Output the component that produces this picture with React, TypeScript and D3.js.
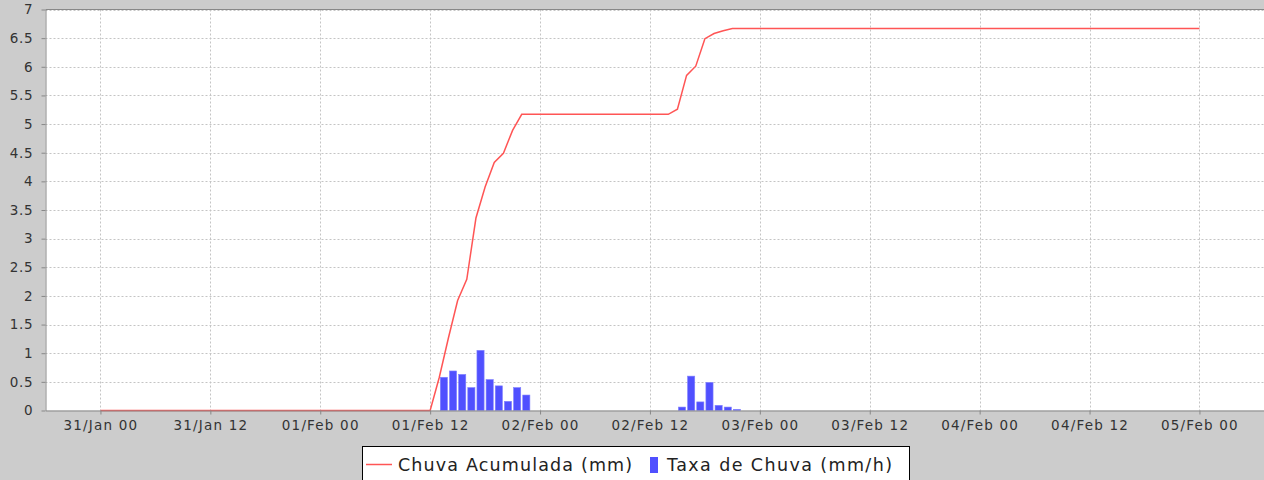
import { useRef, useEffect } from 'react';
import * as d3 from 'd3';

// hourly rain rate (mm/h), bar drawn over [t, t+1h]
const rateTimes = [
    '2011-02-01T13:00', '2011-02-01T14:00', '2011-02-01T15:00', '2011-02-01T16:00', '2011-02-01T17:00',
    '2011-02-01T18:00', '2011-02-01T19:00', '2011-02-01T20:00', '2011-02-01T21:00', '2011-02-01T22:00',
    '2011-02-02T15:00', '2011-02-02T16:00', '2011-02-02T17:00', '2011-02-02T18:00', '2011-02-02T19:00',
    '2011-02-02T20:00', '2011-02-02T21:00',
];
const rateValues = [
    0.58, 0.69, 0.63, 0.40, 1.05, 0.54, 0.43, 0.16, 0.40, 0.27,
    0.06, 0.60, 0.15, 0.49, 0.09, 0.06, 0.02,
];

// accumulated rain (mm)
const accTimes = [
    '2011-01-31T00:00', '2011-02-01T12:00',
    '2011-02-01T13:00', '2011-02-01T14:00', '2011-02-01T15:00', '2011-02-01T16:00', '2011-02-01T17:00',
    '2011-02-01T18:00', '2011-02-01T19:00', '2011-02-01T20:00', '2011-02-01T21:00', '2011-02-01T22:00',
    '2011-02-02T14:00', '2011-02-02T15:00', '2011-02-02T16:00', '2011-02-02T17:00', '2011-02-02T18:00',
    '2011-02-02T19:00', '2011-02-02T20:00', '2011-02-02T21:00', '2011-02-05T00:00',
];
const accValues = [
    0, 0,
    0.58, 1.27, 1.92, 2.29, 3.36, 3.90, 4.33, 4.49, 4.89, 5.17,
    5.17, 5.26, 5.85, 6.01, 6.49, 6.58, 6.63, 6.67, 6.67,
];

const yTicks = [0, 0.5, 1, 1.5, 2, 2.5, 3, 3.5, 4, 4.5, 5, 5.5, 6, 6.5, 7];
const xTickTimes = [
    '2011-01-31T00:00', '2011-01-31T12:00', '2011-02-01T00:00', '2011-02-01T12:00', '2011-02-02T00:00',
    '2011-02-02T12:00', '2011-02-03T00:00', '2011-02-03T12:00', '2011-02-04T00:00', '2011-02-04T12:00',
    '2011-02-05T00:00',
];

const lineName = 'Chuva Acumulada (mm)';
const barName = 'Taxa de Chuva (mm/h)';

const RainChart = () => {
    const svgRef = useRef<SVGSVGElement | null>(null);

    useEffect(() => {
        const svgElement = svgRef.current;
        if (!svgElement) return;

        const width = 1264;
        const height = 480;
        const parse = d3.utcParse('%Y-%m-%dT%H:%M');
        const font = '"DejaVu Sans", sans-serif';

        const svg = d3.select(svgElement);
        svg.selectAll('*').remove();

        svg.append('rect')
            .attr('width', width)
            .attr('height', height)
            .attr('fill', '#cccccc');

        const left = 45.5;
        const top = 9.5;
        const bottom = 410.5;
        const hourPx = 1099 / 120;

        const x = d3.scaleUtc()
            .domain([parse('2011-01-30T18:00') as Date, parse('2011-02-05T12:00') as Date])
            .range([left, left + 138 * hourPx]);

        const y = d3.scaleLinear()
            .domain([0, 7])
            .range([bottom, top]);

        // plot background
        svg.append('rect')
            .attr('x', left)
            .attr('y', top)
            .attr('width', width - left)
            .attr('height', bottom - top)
            .attr('fill', '#ffffff');

        const tickDates = xTickTimes.map(t => parse(t) as Date);

        // grid
        const grid = svg.append('g')
            .attr('stroke', '#c4c4c4')
            .attr('stroke-width', 1)
            .attr('stroke-dasharray', '2,2');

        grid.selectAll('line.h')
            .data(yTicks.slice(1))
            .join('line')
            .attr('x1', left)
            .attr('x2', width)
            .attr('y1', d => Math.round(y(d)) + 0.5)
            .attr('y2', d => Math.round(y(d)) + 0.5);

        grid.selectAll('line.v')
            .data(tickDates)
            .join('line')
            .attr('x1', d => Math.round(x(d)) + 0.5)
            .attr('x2', d => Math.round(x(d)) + 0.5)
            .attr('y1', top)
            .attr('y2', bottom);

        // bars
        const bars = rateTimes.map((t, i) => ({ t: parse(t) as Date, v: rateValues[i] }));
        svg.append('g')
            .selectAll('rect')
            .data(bars)
            .join('rect')
            .attr('x', d => x(d.t) + 1)
            .attr('width', d => x(d3.utcHour.offset(d.t, 1)) - x(d.t) - 2)
            .attr('y', d => y(d.v))
            .attr('height', d => bottom - y(d.v))
            .attr('fill', '#5050ff')
            .attr('stroke', '#8080ff')
            .attr('stroke-width', 0.6);

        // accumulated line
        const pts = accTimes.map((t, i) => ({ t: parse(t) as Date, v: accValues[i] }));
        const line = d3.line<{ t: Date, v: number }>()
            .x(d => x(d.t))
            .y(d => y(d.v));

        svg.append('path')
            .datum(pts)
            .attr('fill', 'none')
            .attr('stroke', '#ff5555')
            .attr('stroke-width', 1.5)
            .attr('d', line);

        // top border
        svg.append('line')
            .attr('x1', left)
            .attr('x2', width)
            .attr('y1', top)
            .attr('y2', top)
            .attr('stroke', '#888888');

        // y axis
        const yAxis = svg.append('g')
            .attr('transform', `translate(${left}, 0)`)
            .call(d3.axisLeft(y).tickValues(yTicks).tickSize(4).tickSizeOuter(0).tickPadding(8)
                .tickFormat(d => String(d)));

        yAxis.selectAll('path, line')
            .attr('stroke', '#888888');

        yAxis.selectAll('text')
            .attr('fill', '#333333')
            .style('font-family', font)
            .style('font-size', '13.5px')
            .style('letter-spacing', '0.8px');

        // x axis
        const xAxis = svg.append('g')
            .attr('transform', `translate(0, ${bottom})`)
            .call(d3.axisBottom(x).tickValues(tickDates).tickSize(4).tickSizeOuter(0).tickPadding(6)
                .tickFormat(d => d3.utcFormat('%d/%b %H')(d as Date)));

        xAxis.selectAll('path, line')
            .attr('stroke', '#888888');

        xAxis.selectAll('text')
            .attr('fill', '#333333')
            .style('font-family', font)
            .style('font-size', '13.5px')
            .style('letter-spacing', '1.2px');

        // legend
        const legend = svg.append('g');
        legend.append('rect')
            .attr('x', 362.5)
            .attr('y', 446.5)
            .attr('width', 547)
            .attr('height', 40)
            .attr('fill', '#ffffff')
            .attr('stroke', '#000000');

        legend.append('line')
            .attr('x1', 366)
            .attr('x2', 392)
            .attr('y1', 464.5)
            .attr('y2', 464.5)
            .attr('stroke', '#ff5555')
            .attr('stroke-width', 1.5);

        legend.append('text')
            .attr('x', 398)
            .attr('y', 471)
            .text(lineName)
            .style('font-family', font)
            .style('font-size', '17.5px')
            .style('letter-spacing', '1.15px')
            .attr('fill', '#222222');

        legend.append('rect')
            .attr('x', 650)
            .attr('y', 457)
            .attr('width', 8)
            .attr('height', 16)
            .attr('fill', '#5050ff');

        legend.append('text')
            .attr('x', 667)
            .attr('y', 471)
            .text(barName)
            .style('font-family', font)
            .style('font-size', '17.5px')
            .style('letter-spacing', '1.4px')
            .attr('fill', '#222222');
    }, []);

    return (
        <svg ref={svgRef} width={1264} height={480} style={{ display: 'block' }}></svg>
    );
};

const App = () => (
    <div>
        <style>{'body { margin: 0; }'}</style>
        <RainChart />
    </div>
);

export default App;
